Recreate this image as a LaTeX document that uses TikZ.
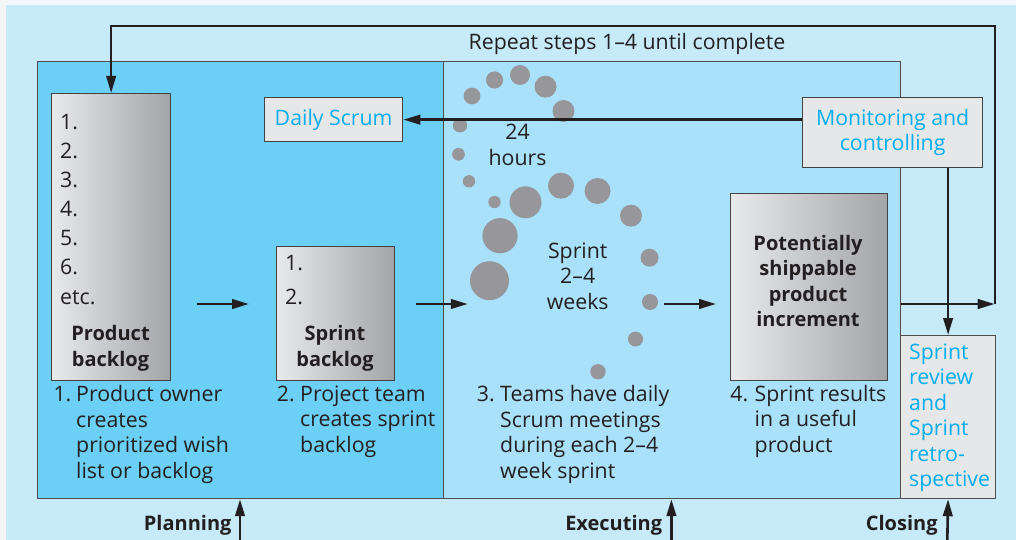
\documentclass[tikz,border=0pt]{standalone}
\usepackage{fontspec}
\setmainfont{Open Sans}
\usetikzlibrary{arrows.meta}

\definecolor{pagegray}{RGB}{244,245,246}
\definecolor{outerblue}{RGB}{199,234,249}
\definecolor{planblue}{RGB}{108,207,245}
\definecolor{execblue}{RGB}{170,225,250}
\definecolor{boxgray}{RGB}{230,231,232}
\definecolor{gradlight}{RGB}{232,233,235}
\definecolor{graddark}{RGB}{163,164,168}
\definecolor{bubblegray}{RGB}{150,150,155}
\definecolor{scrumcyan}{RGB}{0,174,239}
\definecolor{inkdark}{RGB}{35,31,32}

\begin{document}
\begin{tikzpicture}[x=1pt, y=-1pt,
    font=\fontsize{21.3}{25.5}\selectfont,
    panel/.style={draw=inkdark!80, line width=1.2pt, anchor=north west, inner sep=0pt},
    backlog/.style={draw=inkdark!85, line width=1.3pt, left color=gradlight, right color=graddark, anchor=north west, inner sep=0pt},
    tag/.style={draw=inkdark!85, line width=1.3pt, fill=boxgray, text=scrumcyan, align=center, anchor=north west, inner sep=0pt},
    txt/.style={inner sep=0pt, align=left, anchor=base west, text=inkdark},
    title/.style={inner sep=0pt, align=center, anchor=base, text=inkdark, font=\fontsize{20}{25.5}\selectfont\bfseries},
    bubble/.style={circle, fill=bubblegray, inner sep=0pt},
    flow/.style={line width=2.6pt, draw=inkdark, -{Triangle[length=17pt, width=9.5pt]}}]

    \useasboundingbox (0,0) rectangle (1016,540);
    \fill[pagegray] (0,0) rectangle (1016,540);
    \fill[outerblue] (6,5) rectangle (1016,540);

    % the three phases
    \node[panel, fill=planblue, minimum width=406pt, minimum height=437pt] (plan) at (37,61) {};
    \node[panel, fill=execblue, minimum width=457pt, minimum height=437pt] (exec) at (443,61) {};
    \node[panel, fill=boxgray, minimum width=95pt, minimum height=163pt] (close) at (900,335) {};

    % bubbles for the daily and sprint cycles
    \foreach \x/\y/\r [count=\i] in {472/96/8.4, 494.5/80/8.6, 520/75/10, 545.5/86.7/11, 563.5/111/11,
            460/125.3/7.2, 458.5/154.3/6.4, 469/181.3/6.2, 494.5/202/6.2, 561/185.7/13,
            597.5/191/13, 525.5/202.3/16, 631/215.7/11, 500/235.7/17.6, 649.5/257.7/9,
            489.5/280.7/19.5, 650/302/8, 635.5/339/7.5, 598/371.7/7.7}
        \node[bubble, minimum size={2*\r*1pt}] (b\i) at (\x,\y) {};

    \node[backlog, minimum width=119pt, minimum height=287pt] (pb) at (51,93) {};
    \node[backlog, minimum width=118pt, minimum height=134pt] (sb) at (276,246) {};
    \node[backlog, minimum width=157pt, minimum height=187pt] (psi) at (730,193) {};
    \node[tag, minimum width=138pt, minimum height=44pt] (ds) at (264,97) {Daily Scrum};
    \node[tag, minimum width=180pt, minimum height=70pt] (mon) at (802,97) {Monitoring and\\controlling};

    % texts (base = last line)
    \node[txt, font=\fontsize{21.3}{29.1}\selectfont] (pblist) at (60,304) {1.\\2.\\3.\\4.\\5.\\6.\\etc.};
    \node[title] (pbtitle) at (110.5,366) {Product\\backlog};
    \node[txt, font=\fontsize{21.3}{33.6}\selectfont] (sblist) at (285,304.3) {1.\\2.};
    \node[title] (sbtitle) at (335,366) {Sprint\\backlog};
    \node[title] (psititle) at (808,326.7) {Potentially\\shippable\\product\\increment};
    \node[txt, anchor=base] (repeat) at (627,50) {Repeat steps 1--4 until complete};
    \node[txt, align=center, anchor=base] (day) at (517.5,165) {24\\hours};
    \node[txt, align=center, anchor=base] (sprint) at (577.7,309) {Sprint\\2--4\\weeks};
    \node[txt, text=scrumcyan] (closetxt) at (909,486.7) {Sprint\\review\\and\\Sprint\\retro-\\spective};

    \node[txt] (step1n) at (53.3,401.7) {1.};
    \node[txt] (step1) at (76,478.3) {Product owner\\creates\\prioritized wish\\list or backlog};
    \node[txt] (step2n) at (276.7,401.7) {2.};
    \node[txt] (step2) at (300,452.3) {Project team\\creates sprint\\backlog};
    \node[txt] (step3n) at (476.7,401.7) {3.};
    \node[txt] (step3) at (500,478.3) {Teams have daily\\Scrum meetings\\during each 2--4\\week sprint};
    \node[txt] (step4n) at (730.2,401.7) {4.};
    \node[txt] (step4) at (754.5,452.3) {Sprint results\\in a useful\\product};

    \node[title, anchor=base east] (planlbl) at (231.7,530) {Planning};
    \node[title, anchor=base east] (execlbl) at (662.3,530) {Executing};
    \node[title, anchor=base east] (closelbl) at (937.8,530) {Closing};

    % arrows
    \coordinate (row) at (0,304);
    \coordinate (loopse) at (994.7,304);
    \coordinate (loopne) at (994.7,26);
    \draw[flow, shorten <=26pt, shorten >=27pt] (pb.east |- row) -- (sb.west |- row);
    \draw[flow, shorten <=21pt, shorten >=2pt] (sb.east |- row) -- (b16.west |- row);
    \draw[flow, shorten <=6pt, shorten >=14pt] (b17.east |- row) -- (psi.west |- row);
    \draw[flow] (exec.east |- row) -- (loopse);
    \draw[flow, line width=2.3pt] (loopse) -- (loopne) -| (pb.north);
    \draw[flow] (mon.west |- ds.east) -- (ds.east);
    \draw[flow] (close.north |- mon.south) -- (close.north);

    \coordinate (planfoot) at (240,540);
    \coordinate (execfoot) at (671.4,540);
    \coordinate (closefoot) at (947.3,540);
    \draw[flow] (planfoot) -- (planfoot |- plan.south);
    \draw[flow] (execfoot) -- (execfoot |- exec.south);
    \draw[flow] (closefoot) -- (close.south);
\end{tikzpicture}
\end{document}
